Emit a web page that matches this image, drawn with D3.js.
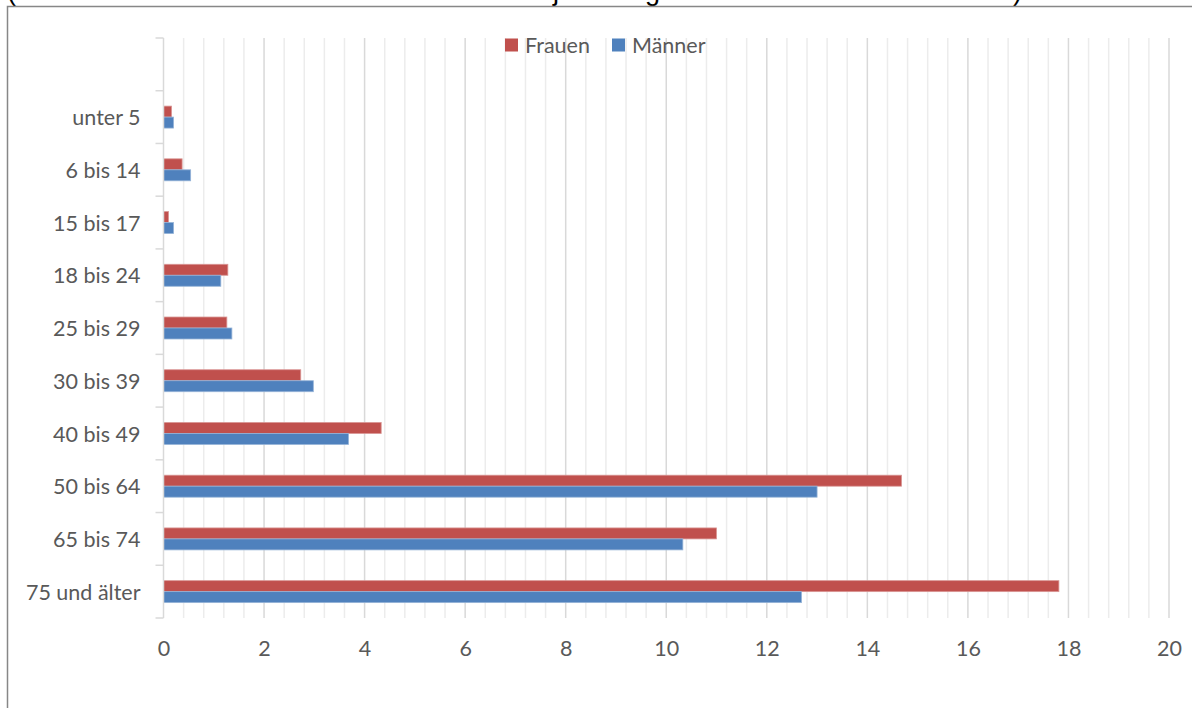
<!DOCTYPE html>
<html>
<head>
<meta charset="utf-8">
<script src="https://cdn.jsdelivr.net/npm/d3@7"></script>
<style>
  html, body { margin: 0; padding: 0; background: #fff; }
  svg { display: block; }
</style>
</head>
<body>
<svg id="chart" width="1192" height="708"></svg>
<script>
// ---- Data ----
const categories = ["", "unter 5", "6 bis 14", "15 bis 17", "18 bis 24", "25 bis 29",
  "30 bis 39", "40 bis 49", "50 bis 64", "65 bis 74", "75 und älter"];
const seriesNames = ["Frauen", "Männer"];
const frauen = [null, 0.16, 0.37, 0.10, 1.28, 1.26, 2.73, 4.33, 14.68, 11.0, 17.81];
const maenner = [null, 0.20, 0.54, 0.20, 1.14, 1.36, 2.98, 3.68, 13.0, 10.33, 12.69];
const xTickValues = [0, 2, 4, 6, 8, 10, 12, 14, 16, 18, 20];
const colors = { "Frauen": "#C0504D", "Männer": "#4F81BD" };
const strokeColors = { "Frauen": "#D99694", "Männer": "#95B3D7" };

const svg = d3.select("#chart");
const font = "Lato, 'Open Sans', sans-serif";
const textColor = "#595959";
const fs = 21.5;

// clipped title fragment (only descenders visible above frame, as in the reference)
const titleFrag = [{ t: "(", x: 7 }, { t: "j", x: 553 }, { t: "g", x: 645 }, { t: ")", x: 1013 }];
svg.selectAll("text.title").data(titleFrag).enter().append("text")
  .attr("class", "title")
  .attr("x", d => d.x).attr("y", 0)
  .attr("font-family", "'Liberation Sans', Arial, sans-serif")
  .attr("font-size", 27).attr("fill", "#000")
  .text(d => d.t);

// outer frame
svg.append("rect").attr("x", 7.5).attr("y", 6.5).attr("width", 1200).attr("height", 720)
  .attr("fill", "none").attr("stroke", "#878787").attr("stroke-width", 1.5);

const pLeft = 163.5, pRight = 1169, pTop = 38, pBottom = 618;

const x = d3.scaleLinear().domain([0, 20]).range([pLeft, pRight]);
const y = d3.scaleBand().domain(categories.map((c, i) => i)).range([pTop, pBottom]).padding(0);
const ySub = d3.scaleBand().domain(seriesNames).range([0, y.bandwidth()]).paddingInner(0).paddingOuter(1.4);

// minor gridlines
const minorTicks = d3.range(0, 20.0001, 0.4).filter(v => Math.abs(v / 2 - Math.round(v / 2)) > 1e-6);
svg.append("g").selectAll("line").data(minorTicks).enter().append("line")
  .attr("x1", d => x(d)).attr("x2", d => x(d))
  .attr("y1", pTop).attr("y2", pBottom)
  .attr("stroke", "#ececec").attr("stroke-width", 1.5);

// major gridlines
svg.append("g").selectAll("line").data(xTickValues.slice(1)).enter().append("line")
  .attr("x1", d => x(d)).attr("x2", d => x(d))
  .attr("y1", pTop).attr("y2", pBottom)
  .attr("stroke", "#d9d9d9").attr("stroke-width", 1.5);

// bars
const rows = categories.map((c, i) => ({ i, Frauen: frauen[i], "Männer": maenner[i] }));
const g = svg.append("g");
seriesNames.forEach(s => {
  g.selectAll("rect." + (s === "Frauen" ? "f" : "m"))
    .data(rows.filter(r => r[s] != null)).enter().append("rect")
    .attr("x", x(0))
    .attr("y", r => y(r.i) + ySub(s))
    .attr("width", r => x(r[s]) - x(0))
    .attr("height", ySub.bandwidth())
    .attr("fill", colors[s])
    .attr("stroke", strokeColors[s]).attr("stroke-width", 0.8);
});

// y axis
const yAxis = d3.axisLeft(y).tickSize(0).tickFormat(i => categories[i]);
const yg = svg.append("g").attr("transform", `translate(${pLeft},0)`).call(yAxis);
yg.select(".domain").remove();
yg.selectAll("text").attr("x", -23).attr("dy", "0.38em").attr("font-family", font).attr("font-size", fs)
  .attr("fill", textColor);
// axis line and category boundary ticks
svg.append("line").attr("x1", pLeft).attr("x2", pLeft).attr("y1", pTop).attr("y2", pBottom)
  .attr("stroke", "#d9d9d9").attr("stroke-width", 1.5);
const boundaries = d3.range(categories.length + 1).map(k => pTop + k * y.step());
svg.append("g").selectAll("line").data(boundaries).enter().append("line")
  .attr("x1", pLeft - 8).attr("x2", pLeft).attr("y1", d => d).attr("y2", d => d)
  .attr("stroke", "#d9d9d9").attr("stroke-width", 1.5);

// x axis labels
const xAxis = d3.axisBottom(x).tickValues(xTickValues).tickSize(0).tickFormat(d3.format("d"));
const xg = svg.append("g").attr("transform", `translate(0,${pBottom})`).call(xAxis);
xg.select(".domain").remove();
xg.selectAll("text").attr("y", 23).attr("font-family", font).attr("font-size", fs)
  .attr("fill", textColor);

// legend
const legend = svg.append("g");
const legendItems = [{ s: "Frauen", x: 505 }, { s: "Männer", x: 612 }];
legendItems.forEach(it => {
  legend.append("rect").attr("x", it.x).attr("y", 38.5).attr("width", 13).attr("height", 13)
    .attr("fill", colors[it.s]);
  legend.append("text").attr("x", it.x + 20).attr("y", 52.5)
    .attr("font-family", font).attr("font-size", fs).attr("fill", textColor).text(it.s);
});
</script>
</body>
</html>
